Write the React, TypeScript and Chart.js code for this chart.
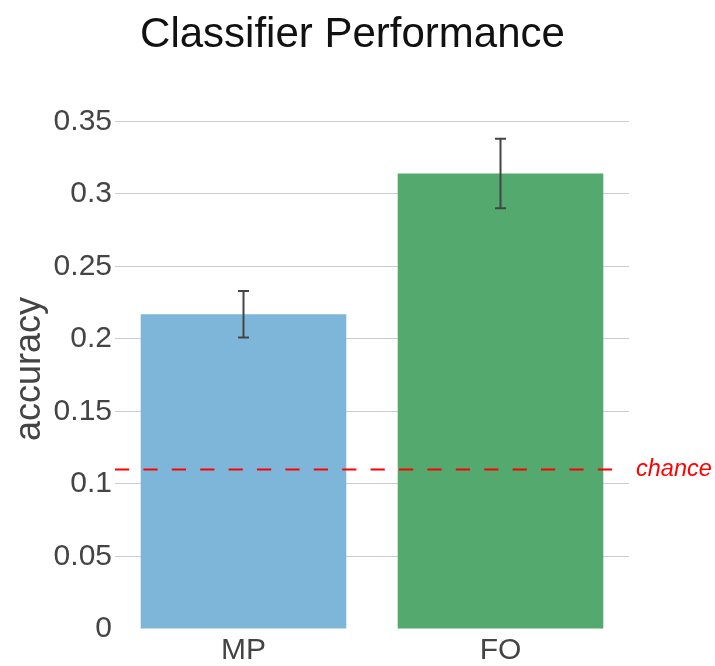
import React, { useEffect, useRef } from "react";
import { Chart, registerables } from "chart.js";

Chart.register(...registerables);

const categories = ["MP", "FO"];
const accuracy = [0.217, 0.314];
const errLow = [0.201, 0.29];
const errHigh = [0.233, 0.338];
const chanceLevel = 0.11;
const chanceSpan = [-0.5, 1.45];
const yTicks = [0, 0.05, 0.1, 0.15, 0.2, 0.25, 0.3, 0.35];
const yTickLabels = ["0", "0.05", "0.1", "0.15", "0.2", "0.25", "0.3", "0.35"];
const barColors = ["#7eb6d9", "#53a96e"];

const FONT = '"Liberation Sans", Arial, Helvetica, sans-serif';

const overlayPlugin = {
  id: "overlay",
  afterDatasetsDraw(chart: any) {
    const { ctx, scales, chartArea } = chart;
    const x = scales.x;
    const y = scales.y;
    ctx.save();
    // error bars
    ctx.strokeStyle = "#444444";
    ctx.lineWidth = 2;
    ctx.setLineDash([]);
    categories.forEach((_c, i) => {
      const px = x.getPixelForValue(i);
      const yl = y.getPixelForValue(errLow[i]);
      const yh = y.getPixelForValue(errHigh[i]);
      const cap = 5.5;
      ctx.beginPath();
      ctx.moveTo(px, yl);
      ctx.lineTo(px, yh);
      ctx.moveTo(px - cap, yh);
      ctx.lineTo(px + cap, yh);
      ctx.moveTo(px - cap, yl);
      ctx.lineTo(px + cap, yl);
      ctx.stroke();
    });
    // chance line
    const yc = y.getPixelForValue(chanceLevel);
    ctx.strokeStyle = "#ff0000";
    ctx.lineWidth = 2;
    ctx.setLineDash([14.2, 14.2]);
    ctx.beginPath();
    ctx.moveTo(x.getPixelForValue(chanceSpan[0]), yc);
    ctx.lineTo(x.getPixelForValue(chanceSpan[1]), yc);
    ctx.stroke();
    ctx.setLineDash([]);
    // chance label
    ctx.fillStyle = "#ff0000";
    ctx.font = `italic 23.5px ${FONT}`;
    ctx.textAlign = "left";
    ctx.textBaseline = "alphabetic";
    ctx.fillText("chance", chartArea.right + 7, yc + 7);
    ctx.restore();
  },
  afterDraw(chart: any) {
    const { ctx } = chart;
    ctx.save();
    ctx.fillStyle = "#111111";
    ctx.font = `42px ${FONT}`;
    ctx.textAlign = "center";
    ctx.textBaseline = "alphabetic";
    ctx.fillText("Classifier Performance", 352.5, 47);
    ctx.translate(40, 369);
    ctx.rotate(-Math.PI / 2);
    ctx.fillStyle = "#444444";
    ctx.font = `36px ${FONT}`;
    ctx.textAlign = "center";
    ctx.textBaseline = "alphabetic";
    ctx.fillText("accuracy", 0, 0);
    ctx.restore();
  },
};

export default function App() {
  const ref = useRef<HTMLCanvasElement | null>(null);
  useEffect(() => {
    if (!ref.current) return;
    const chart = new Chart(ref.current, {
      type: "bar",
      data: {
        labels: categories,
        datasets: [
          {
            data: accuracy,
            backgroundColor: barColors,
            borderWidth: 0,
            barPercentage: 0.8,
            categoryPercentage: 1,
          },
        ],
      },
      options: {
        responsive: false,
        animation: false,
        devicePixelRatio: 1,
        layout: { padding: { top: 114, right: 86, left: 0, bottom: 0 } },
        plugins: {
          legend: { display: false },
          title: { display: false },
          tooltip: { enabled: false },
        },
        scales: {
          x: {
            type: "category",
            offset: true,
            grid: { display: false, drawTicks: false },
            border: { display: false },
            ticks: {
              color: "#444444",
              font: { family: FONT, size: 30 },
              padding: 4,
              maxRotation: 0,
            },
            afterFit: (s: any) => {
              s.height = 37;
            },
          },
          y: {
            type: "linear",
            min: 0,
            max: 0.355,
            border: { display: false },
            grid: {
              drawTicks: false,
              lineWidth: 1,
              color: (c: any) => (c.tick && c.tick.value === 0 ? "rgba(0,0,0,0)" : "#cccccc"),
            },
            afterBuildTicks: (s: any) => {
              s.ticks = yTicks.map((v) => ({ value: v }));
            },
            ticks: {
              color: "#444444",
              font: { family: FONT, size: 30 },
              padding: 3,
              callback: (_v: any, i: number) => yTickLabels[i],
            },
            afterFit: (s: any) => {
              s.width = 115;
            },
          },
        },
      },
      plugins: [overlayPlugin],
    });
    return () => chart.destroy();
  }, []);
  return (
    <div style={{ position: "fixed", left: 0, top: 0, width: 715, height: 666, background: "#ffffff" }}>
      <canvas ref={ref} width={715} height={666} style={{ display: "block" }} />
    </div>
  );
}
